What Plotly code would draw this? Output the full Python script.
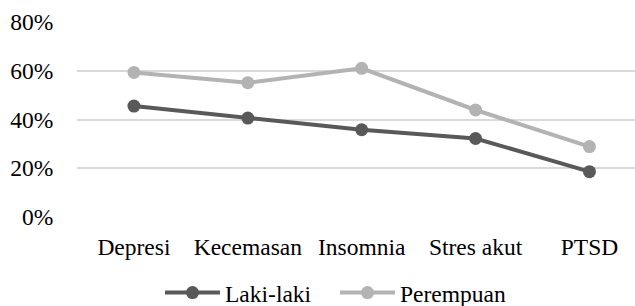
import plotly.graph_objects as go

categories = ["Depresi", "Kecemasan", "Insomnia", "Stres akut", "PTSD"]
laki_laki = [0.455, 0.406, 0.358, 0.322, 0.186]
perempuan = [0.593, 0.551, 0.610, 0.439, 0.289]
y_ticks = [0, 0.2, 0.4, 0.6, 0.8]

fig = go.Figure()
fig.add_trace(go.Scatter(
    x=categories, y=laki_laki, name="Laki-laki", mode="lines+markers",
    line=dict(color="#595959", width=4), marker=dict(size=13, color="#595959"),
))
fig.add_trace(go.Scatter(
    x=categories, y=perempuan, name="Perempuan", mode="lines+markers",
    line=dict(color="#b3b3b3", width=4), marker=dict(size=13, color="#b3b3b3"),
))

font = dict(family="Liberation Serif", size=23.5, color="#000000")
fig.update_layout(
    width=635, height=306,
    margin=dict(l=77, r=0, t=22, b=89),
    paper_bgcolor="white", plot_bgcolor="white",
    font=font,
    showlegend=True,
    legend=dict(orientation="h", x=160 / 635, xref="container", xanchor="left",
                y=0.043, yref="container", yanchor="middle", font=font,
                itemwidth=55, entrywidth=105, entrywidthmode="pixels",
                traceorder="normal", bgcolor="rgba(0,0,0,0)"),
)
fig.update_xaxes(type="category", range=[-0.5, 4.4], showgrid=False, showline=False,
                 zeroline=False, ticks="outside", ticklen=9, tickcolor="rgba(0,0,0,0)",
                 tickfont=font, automargin=False)
fig.update_yaxes(range=[0, 0.8], tickvals=y_ticks, tickformat=".0%", showgrid=True,
                 gridcolor="#d9d9d9", gridwidth=1.5, zeroline=False, showline=False,
                 ticks="outside", ticklen=18, tickcolor="rgba(0,0,0,0)", tickfont=font,
                 automargin=False)
fig.write_html("out.html", config={"displayModeBar": False},
               post_script="document.body.style.margin='0';document.body.style.overflow='hidden';")
